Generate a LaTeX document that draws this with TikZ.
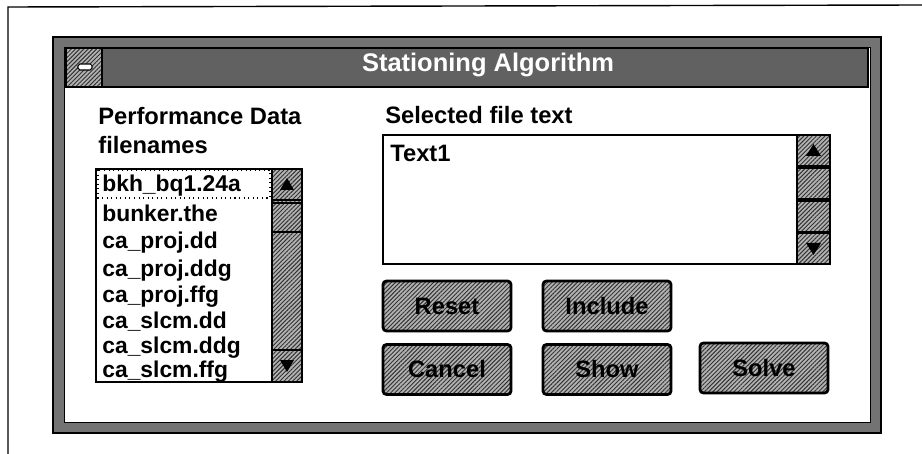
\documentclass[tikz,border=0pt]{standalone}
\usepackage{fontspec}
\setmainfont{Liberation Sans}
\usetikzlibrary{patterns.meta}

\begin{document}
\begin{tikzpicture}[scale=0.2,
        lbl/.style={font=\fontsize{13.5}{16}\selectfont\bfseries, anchor=base west},
        item/.style={font=\fontsize{13}{15}\selectfont\bfseries, anchor=base west},
        hatch/.style={preaction={fill=black!30}, pattern={Lines[angle=45,distance=1.7pt,line width=0.55pt]}, pattern color=black!80},
        sbtn/.style={hatch, draw=black, line width=0.7pt},
        btn/.style={hatch, draw=black, line width=1.6pt, rounded corners=2pt, minimum width=2.56cm, minimum height=1cm},
        btntxt/.style={font=\fontsize{13.5}{16}\selectfont\bfseries\color{black}}]
            \tikzstyle{every node}+=[inner sep=0pt]
            \useasboundingbox (0,0) rectangle (92.2,-45.4);
                % outer frame
                \draw [line width=0.8pt] (0.8,-45.4) -- (0.8,-0.7) -- (92.2,-0.5);
                % dialog border and client area
                \filldraw [fill=black!55, draw=black, line width=0.9pt] (5.3,-3.7) rectangle (88.1,-43.3);
                \filldraw [fill=white, draw=black, line width=0.5pt] (6.4,-4.7) rectangle (87.0,-42.2);
                % title bar
                \filldraw [fill=black!62, draw=black, line width=0.6pt] (6.6,-4.8) rectangle (86.8,-8.7);
                \filldraw [sbtn] (6.6,-4.8) rectangle (10.2,-8.7);
                \filldraw [fill=white, draw=black, line width=0.6pt, rounded corners=1pt] (7.8,-6.4) rectangle (9.2,-7.0);
                \draw (48.8,-6.5) node [font=\fontsize{14.5}{17}\selectfont\bfseries, text=white] (title) {Stationing Algorithm};
                % labels
                \draw (9.8,-12.5) node [lbl] (perf) {Performance Data};
                \draw (9.8,-15.4) node [lbl] (fnames) {filenames};
                \draw (38.5,-12.4) node [lbl] (seltxt) {Selected file text};
                % file list
                \filldraw [fill=white, draw=black, line width=0.9pt] (9.6,-16.9) rectangle (30.2,-38.2);
                \filldraw [sbtn] (27.2,-16.9) rectangle (30.2,-38.2);
                \filldraw [sbtn] (27.2,-16.9) rectangle (30.2,-20.0);
                \filldraw [sbtn] (27.2,-20.3) rectangle (30.2,-23.2);
                \filldraw [sbtn] (27.2,-35.0) rectangle (30.2,-38.2);
                \fill (28.0,-19.0) -- (29.4,-19.0) -- (28.7,-17.8) -- cycle;
                \fill (28.0,-36.0) -- (29.4,-36.0) -- (28.7,-37.2) -- cycle;
                \draw [dotted, line width=0.6pt] (9.8,-17.0) rectangle (27.0,-19.8);
                \draw (10.2,-19.2) node [item] (f1) {bkh\_bq1.24a};
                \draw (10.2,-22.2) node [item] (f2) {bunker.the};
                \draw (10.2,-24.9) node [item] (f3) {ca\_proj.dd};
                \draw (10.2,-27.6) node [item] (f4) {ca\_proj.ddg};
                \draw (10.2,-30.2) node [item] (f5) {ca\_proj.ffg};
                \draw (10.2,-32.8) node [item] (f6) {ca\_slcm.dd};
                \draw (10.2,-35.3) node [item] (f7) {ca\_slcm.ddg};
                \draw (10.2,-37.7) node [item] (f8) {ca\_slcm.ffg};
                % text box
                \filldraw [fill=white, draw=black, line width=0.9pt] (38.3,-13.5) rectangle (83.0,-26.4);
                \filldraw [sbtn] (79.7,-13.5) rectangle (83.0,-16.6);
                \filldraw [sbtn] (79.7,-16.8) rectangle (83.0,-19.9);
                \filldraw [sbtn] (79.7,-20.1) rectangle (83.0,-23.2);
                \filldraw [sbtn] (79.7,-23.3) rectangle (83.0,-26.4);
                \fill (80.6,-15.6) -- (82.1,-15.6) -- (81.35,-14.4) -- cycle;
                \fill (80.6,-24.3) -- (82.1,-24.3) -- (81.35,-25.5) -- cycle;
                \draw (39.0,-16.2) node [lbl] (txt) {Text1};
                % buttons
                \draw (44.7,-30.6) node [btn] (reset) {};
                \draw (60.7,-30.6) node [btn] (incl) {};
                \draw (44.7,-36.95) node [btn] (cancel) {};
                \draw (60.7,-36.95) node [btn] (show) {};
                \draw (76.4,-36.8) node [btn] (solve) {};
                \draw (reset) node [btntxt] (resetlbl) {Reset};
                \draw (incl) node [btntxt] (incllbl) {Include};
                \draw (cancel) node [btntxt] (cancellbl) {Cancel};
                \draw (show) node [btntxt] (showlbl) {Show};
                \draw (solve) node [btntxt] (solvelbl) {Solve};
            \end{tikzpicture}
\end{document}
